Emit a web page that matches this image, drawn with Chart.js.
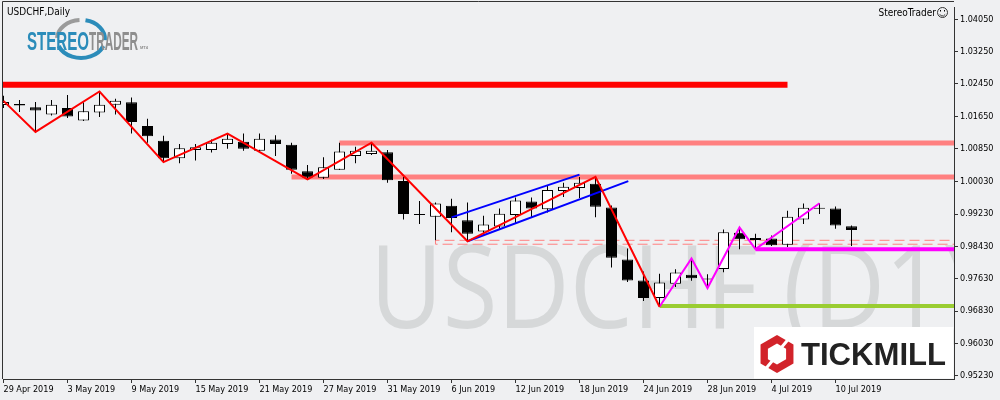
<!DOCTYPE html>
<html>
<head>
<meta charset="utf-8">
<script src="https://cdn.jsdelivr.net/npm/chart.js@4.4.0/dist/chart.umd.min.js"></script>
<style>
  html, body { margin: 0; padding: 0; background: #eff0f2; }
</style>
</head>
<body>
<canvas id="myChart" width="1000" height="400"></canvas>
<script>
// daily candles, 29 Apr 2019 .. 11 Jul 2019
const dates = ['29 Apr 2019','30 Apr 2019','1 May 2019','2 May 2019','3 May 2019','6 May 2019','7 May 2019','8 May 2019','9 May 2019','10 May 2019',
  '13 May 2019','14 May 2019','15 May 2019','16 May 2019','17 May 2019','20 May 2019','21 May 2019','22 May 2019','23 May 2019','24 May 2019',
  '27 May 2019','28 May 2019','29 May 2019','30 May 2019','31 May 2019','3 Jun 2019','4 Jun 2019','5 Jun 2019','6 Jun 2019','7 Jun 2019',
  '10 Jun 2019','11 Jun 2019','12 Jun 2019','13 Jun 2019','14 Jun 2019','17 Jun 2019','18 Jun 2019','19 Jun 2019','20 Jun 2019','21 Jun 2019',
  '24 Jun 2019','25 Jun 2019','26 Jun 2019','27 Jun 2019','28 Jun 2019','1 Jul 2019','2 Jul 2019','3 Jul 2019','4 Jul 2019','5 Jul 2019',
  '8 Jul 2019','9 Jul 2019','10 Jul 2019','11 Jul 2019'];

const openP = [1.01929,1.01953,1.01873,1.01693,1.01856,1.01546,1.01741,1.01936,1.01995,1.01410,
  1.01044,1.00613,1.00815,1.00815,1.00961,1.01020,1.00800,1.01076,1.00947,1.00289,
  1.00132,1.00328,1.00669,1.00718,1.00759,1.00052,0.99223,0.99167,0.99435,0.99077,
  0.98801,0.98923,0.99206,0.99540,0.99352,0.99801,0.99874,0.99979,0.99394,0.98109,
  0.97590,0.97158,0.97509,0.97729,0.97626,0.97875,0.98767,0.98638,0.98626,0.98475,
  0.99094,0.99375,0.99369,0.98931];
const highP = [1.02156,1.02051,1.02002,1.02051,1.02173,1.01995,1.02263,1.02083,1.02117,1.01588,
  1.01166,1.00961,1.00961,1.01076,1.01222,1.01222,1.01222,1.01181,1.00995,1.00442,
  1.00637,1.00995,1.00898,1.00995,1.00815,1.00150,0.99557,0.99516,0.99613,0.99516,
  0.99192,0.99369,0.99638,0.99638,0.99923,1.00003,1.00150,1.00150,0.99443,0.98377,
  0.97809,0.97753,0.97865,0.98134,0.97743,0.98850,0.98899,0.98743,0.98704,0.99313,
  0.99491,0.99499,0.99418,0.98948];
const lowP = [1.01856,1.01758,1.01264,1.01668,1.01605,1.01532,1.01629,1.01693,1.01222,1.00995,
  1.00515,1.00491,1.00557,1.00752,1.00849,1.00800,1.00791,1.00669,1.00230,1.00089,
  1.00101,1.00320,1.00491,1.00693,1.00003,0.99094,0.98987,0.98582,0.98784,0.98558,
  0.98719,0.98865,0.99011,0.99150,0.99272,0.99655,0.99630,0.99150,0.97907,0.97548,
  0.97078,0.96939,0.97427,0.97583,0.97402,0.97792,0.98363,0.98363,0.98443,0.98419,
  0.98987,0.99231,0.98865,0.98443];
const closeP = [1.02002,1.01917,1.01790,1.01936,1.01644,1.01776,1.01936,1.02034,1.01507,1.01156,
  1.00613,1.00857,1.00881,1.00995,1.01093,1.00849,1.01093,1.00961,1.00328,1.00137,
  1.00386,1.00776,1.00800,1.00800,1.00069,0.99231,0.99211,0.99491,0.99133,0.98743,
  0.98972,0.99240,0.99564,0.99369,0.99825,0.99906,1.00003,0.99411,0.98151,0.97590,
  0.97158,0.97541,0.97785,0.97646,0.97614,0.98784,0.98606,0.98589,0.98460,0.99167,
  0.99387,0.99365,0.98948,0.98840];

const yTicks = [1.04050,1.03250,1.02450,1.01650,1.00850,1.00030,0.99230,0.98430,0.97630,0.96830,0.96030,0.95230];
const xTicks = [0,4,8,12,16,20,24,28,32,36,40,44,48,52];

// drawn objects (bar index, price)
const zigRedIdx = [0, 2, 6, 10, 14, 19, 23, 29, 37, 41];
const zigRedVal = [1.02030,1.01264,1.02263,1.00515,1.01222,1.00089,1.00995,0.98558,1.00150,0.96939];
const zigMagIdx = [41, 43, 44, 46, 47, 51];
const zigMagVal = [0.96939,0.98134,0.97402,0.98899,0.98363,0.99499];
const chanUpIdx = [28, 36];
const chanUpVal = [0.99150, 1.00206];
const chanLoIdx = [29, 39.05];
const chanLoVal = [0.98558, 1.00045];
const levelVal  = [1.02429, 1.00991, 1.00145, 0.98358, 0.96956];
const levelFrom = [-1, 21, 18, 47, 41];
const levelTo   = [49, 61, 61, 61, 61];
const boxVal  = [0.98582, 0.98485];
const boxFrom = 27;

const xMin = -0.03125, xMax = 59.40625;
const yMin = 0.951519, yMax = 1.043425;

const ctx = document.getElementById('myChart');
const tickFont = { family: '"DejaVu Sans Condensed", "DejaVu Sans", sans-serif', size: 9 };

function lineSet(xs, ys, color, width, order, dash) {
  return {
    type: 'line',
    data: xs.map((x, i) => ({ x: x, y: ys[i] })),
    borderColor: color,
    borderWidth: width,
    borderDash: dash || [],
    pointRadius: 0,
    fill: false,
    tension: 0,
    clip: 0,
    order: order
  };
}

const levelColors = ['#ff0000', '#ff8080', '#ff8080', '#ff00ff', '#9acd32'];
const levelWidths = [6, 5, 5, 4, 4];

const datasets = [];
levelVal.forEach((v, i) => {
  datasets.push(lineSet([levelFrom[i], levelTo[i]], [v, v], levelColors[i], levelWidths[i], 8));
});
datasets.push(lineSet([61, boxFrom, boxFrom, 61], [boxVal[0], boxVal[0], boxVal[1], boxVal[1]], '#ff8080', 1, 7, [10, 5]));

datasets.push({
  type: 'bar',
  data: dates.map((d, i) => ({ x: i, y: [lowP[i], highP[i]] })),
  backgroundColor: '#000',
  borderWidth: 0,
  barThickness: 1,
  grouped: false,
  inflateAmount: 0,
  order: 6
});
datasets.push({
  type: 'bar',
  data: dates.map((d, i) => ({ x: i, y: [openP[i], closeP[i]] })),
  backgroundColor: c => closeP[c.dataIndex] > openP[c.dataIndex] ? '#ffffff' : '#000000',
  borderColor: '#000',
  borderWidth: 1,
  borderSkipped: false,
  barThickness: 11,
  minBarLength: 1,
  grouped: false,
  inflateAmount: 0,
  order: 5
});

datasets.push(lineSet(chanUpIdx, chanUpVal, '#0000ff', 2, 2));
datasets.push(lineSet(chanLoIdx, chanLoVal, '#0000ff', 2, 2));
datasets.push(lineSet(zigRedIdx, zigRedVal, '#ff0000', 2, 1));
datasets.push(lineSet(zigMagIdx, zigMagVal, '#ff00ff', 2, 1));

const decor = {
  id: 'decor',
  beforeDraw(chart) {
    const c = chart.ctx;
    c.save();
    c.fillStyle = '#eff0f2';
    c.fillRect(0, 0, chart.width, chart.height);
    c.restore();
  },
  beforeDatasetsDraw(chart) {
    const c = chart.ctx, a = chart.chartArea;
    c.save();
    c.beginPath();
    c.rect(a.left, a.top, a.right - a.left, a.bottom - a.top);
    c.clip();
    c.font = '115px "Open Sans"';
    c.fillStyle = '#d6d8d9';
    c.textBaseline = 'alphabetic';
    const w = c.measureText('USDCHF (D1').width;
    c.translate(370, 328);
    c.scale(572 / w, 1);
    c.fillText('USDCHF (D1)', 0, 0);
    c.restore();
  },
  afterDatasetsDraw(chart) {
    const c = chart.ctx, a = chart.chartArea;
    c.save();
    // Tickmill box
    c.fillStyle = '#ffffff';
    c.fillRect(754, 327, a.right - 754 - 0.5, a.bottom - 327 - 0.5);
    // hexagon icon
    const cx = 777, cy = 354;
    function hex(r) {
      c.beginPath();
      for (let k = 0; k < 6; k++) {
        const ang = Math.PI / 180 * (60 * k - 90);
        const px = cx + r * Math.cos(ang), py = cy + r * Math.sin(ang);
        if (k === 0) c.moveTo(px, py); else c.lineTo(px, py);
      }
      c.closePath();
    }
    c.fillStyle = '#d2232a';
    hex(19); c.fill();
    c.fillStyle = '#ffffff';
    hex(10.5); c.fill();
    c.strokeStyle = '#ffffff';
    c.lineWidth = 3;
    c.beginPath();
    c.moveTo(cx + 4, cy - 6); c.lineTo(cx + 14, cy - 18);
    c.moveTo(cx - 4, cy + 6); c.lineTo(cx - 14, cy + 18);
    c.stroke();
    c.fillStyle = '#222222';
    c.font = 'bold 31px "Liberation Sans"';
    const tw = c.measureText('TICKMILL').width;
    c.translate(801, 365);
    c.scale(145 / tw, 1);
    c.fillText('TICKMILL', 0, 0);
    c.restore();
  },
  afterDraw(chart) {
    const c = chart.ctx, a = chart.chartArea;
    c.save();
    // frame top/left
    c.strokeStyle = '#333';
    c.lineWidth = 1;
    c.beginPath();
    c.moveTo(2.5, a.bottom);
    c.lineTo(2.5, 1.5);
    c.lineTo(a.right, 1.5);
    c.stroke();

    // titles
    c.fillStyle = '#000';
    c.font = '10px "DejaVu Sans Condensed", "DejaVu Sans"';
    c.textBaseline = 'alphabetic';
    c.textAlign = 'left';
    c.fillText('USDCHF,Daily', 7, 15);
    c.textAlign = 'right';
    c.fillText('StereoTrader', 936, 16);
    // smiley
    c.beginPath(); c.arc(942.5, 12.5, 5, 0, Math.PI * 2); c.stroke();
    c.beginPath(); c.arc(942.5, 13, 3, 0.15 * Math.PI, 0.85 * Math.PI); c.stroke();
    c.fillRect(940, 10, 1, 1.5); c.fillRect(944, 10, 1, 1.5);

    // StereoTrader logo
    c.lineWidth = 4;
    c.strokeStyle = '#9b9b9b';
    c.beginPath(); c.ellipse(81, 39, 24, 19, 0, Math.PI * 1.02, Math.PI * 1.48); c.stroke();
    c.strokeStyle = '#2b8cba';
    c.beginPath(); c.ellipse(81, 39, 24, 19, 0, Math.PI * 1.56, Math.PI * 2.02); c.stroke();
    c.beginPath(); c.ellipse(81, 39, 24, 19, 0, Math.PI * 0.12, Math.PI * 0.88); c.stroke();
    c.textAlign = 'left';
    c.font = 'bold 25px "Liberation Sans"';
    const w1 = c.measureText('STEREO').width;
    c.save();
    c.translate(27, 50); c.scale(62 / w1, 1);
    c.fillStyle = '#2b8cba';
    c.fillText('STEREO', 0, 0);
    c.restore();
    const w2 = c.measureText('TRADER').width;
    c.save();
    c.translate(89, 50); c.scale(49 / w2, 1);
    c.fillStyle = '#8e8e8e';
    c.fillText('TRADER', 0, 0);
    c.restore();
    c.fillStyle = '#8e8e8e';
    c.font = 'bold 4px "Liberation Sans"';
    c.fillText('MT4', 140, 49);
    c.restore();
  }
};

new Chart(ctx, {
  type: 'bar',
  data: { datasets: datasets },
  options: {
    responsive: false,
    animation: false,
    events: [],
    layout: { padding: { left: 3, top: 2, right: 0, bottom: 0 } },
    plugins: { legend: { display: false }, tooltip: { enabled: false } },
    scales: {
      x: {
        type: 'linear',
        min: xMin,
        max: xMax,
        offset: false,
        grid: { drawOnChartArea: false, offset: false, tickLength: 4, color: '#333' },
        border: { color: '#333' },
        afterBuildTicks: s => { s.ticks = xTicks.map(v => ({ value: v })); },
        afterFit: s => { s.height = 21; },
        ticks: {
          align: 'start',
          padding: 1,
          autoSkip: false,
          maxRotation: 0,
          color: '#000',
          font: tickFont,
          callback: v => dates[v] || ''
        }
      },
      y: {
        position: 'right',
        min: yMin,
        max: yMax,
        grid: { drawOnChartArea: false, tickLength: 4, color: '#333' },
        border: { color: '#333' },
        afterBuildTicks: s => { s.ticks = yTicks.slice().sort((p, q) => p - q).map(v => ({ value: v })); },
        afterFit: s => { s.width = 46; },
        ticks: {
          padding: 2,
          color: '#000',
          font: tickFont,
          callback: v => v.toFixed(5)
        }
      }
    }
  },
  plugins: [decor]
});
</script>
</body>
</html>
